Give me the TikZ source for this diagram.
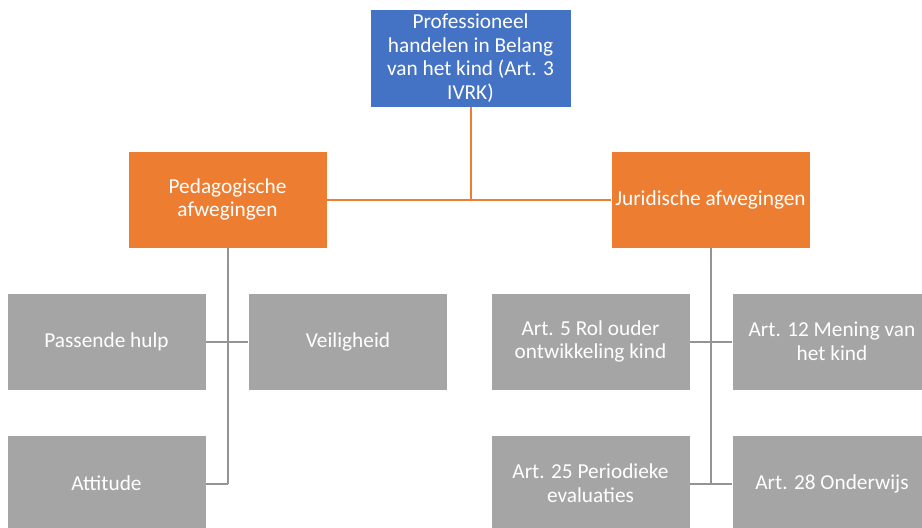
\documentclass[tikz,border=0pt]{standalone}
\usepackage{fontspec}
\setmainfont{Carlito}
\definecolor{blauw}{HTML}{4472C4}
\definecolor{oranje}{HTML}{ED7D31}
\definecolor{grijs}{HTML}{A5A5A5}
\tikzset{
  blok/.style={rectangle, draw=white, line width=0.6pt, text=white, align=center,
    minimum width=199pt, minimum height=97pt, inner sep=2pt,
    font=\fontsize{21.3}{23.8}\selectfont},
  hoofd/.style={blok, fill=blauw, minimum width=201pt, minimum height=98pt},
  tak/.style={blok, fill=oranje},
  punt/.style={blok, fill=grijs},
  lijnO/.style={draw=oranje, line width=2pt},
  lijnG/.style={draw=grijs!90!black, line width=2pt}
}
\begin{document}
\begin{tikzpicture}[x=1pt, y=-1pt]
  \useasboundingbox (0,0) rectangle (922,528);
  \clip (0,0) rectangle (922,528);

  % bovenste blok
  \node[hoofd] (top) at (470.5,58) {Professioneel\\handelen in Belang\\van het kind (Art. 3\\IVRK)};

  % twee takken
  \node[tak] (ped) at (227.5,199.5) {Pedagogische\\afwegingen};
  \node[tak] (jur) at (710.5,199.5) {Juridische afwegingen};

  % pedagogische punten
  \node[punt] (hulp) at (106.5,341.5) {Passende hulp};
  \node[punt] (veilig) at (348,341.5) {Veiligheid};
  \node[punt] (attitude) at (106.5,483.5) {Attitude};

  % juridische punten
  \node[punt] (rol) at (590.5,341.5) {Art. 5 Rol ouder\\ontwikkeling kind};
  \node[punt] (mening) at (832,341.5) {Art. 12 Mening van\\het kind};
  \node[punt] (period) at (590.5,483.5) {Art. 25 Periodieke\\evaluaties};
  \node[punt] (onderwijs) at (832,483.5) {Art. 28 Onderwijs};

  % verbindingen
  \draw[lijnO] (top.south) -- (top.south |- ped.east);
  \draw[lijnO] (ped.east) -- (jur.west);

  \coordinate (pedeind) at (ped.south |- attitude.east);
  \draw[lijnG] (ped.south) -- (pedeind);
  \draw[lijnG] (hulp.east) -- (veilig.west);
  \draw[lijnG] (attitude.east) -- (pedeind);

  \coordinate (jureind) at (jur.south |- period.east);
  \draw[lijnG] (jur.south) -- (jureind);
  \draw[lijnG] (rol.east) -- (mening.west);
  \draw[lijnG] (period.east) -- (onderwijs.west);
\end{tikzpicture}
\end{document}
